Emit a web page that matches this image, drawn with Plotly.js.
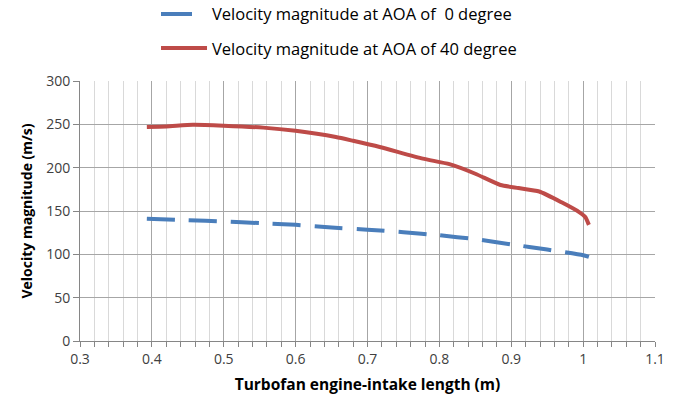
<!DOCTYPE html>
<html>
<head>
<meta charset="utf-8">
<script src="https://cdn.plot.ly/plotly-3.0.1.min.js"></script>
<style>html,body{margin:0;padding:0;background:#fff;}#chart{width:680px;height:406px;}</style>
</head>
<body>
<div id="chart"></div>
<script>
// Data
const lengthAoa0 = [0.393, 0.45, 0.5, 0.55, 0.6, 0.65, 0.7, 0.75, 0.8, 0.85, 0.9, 0.95, 1.0, 1.008];
const velocityAoa0 = [141.2, 139.5, 138, 136, 134, 131, 128.5, 125.5, 122, 117.5, 111.5, 105.5, 99, 97];

const lengthAoa40 = [0.393, 0.42, 0.457, 0.5, 0.555, 0.6, 0.656, 0.68, 0.717, 0.777, 0.814, 0.85, 0.885, 0.91, 0.939, 0.97, 0.994, 1.003, 1.008];
const velocityAoa40 = [247, 247.5, 249.5, 248.5, 246.2, 242.5, 235.4, 231, 223.8, 210.4, 204, 193, 180, 176.5, 172.5, 160, 149, 143, 134];

const seriesNames = ["Velocity magnitude at AOA of \u00a00 degree", "Velocity magnitude at AOA of 40 degree"];
const seriesColors = ["#4a7ebb", "#be4b48"];
const xTitle = "Turbofan engine-intake length (m)";
const yTitle = "Velocity magnitude (m/s)";

const traces = [
  {
    x: lengthAoa0, y: velocityAoa0, name: seriesNames[0], mode: "lines",
    line: {color: seriesColors[0], width: 4, dash: "28px,14px", shape: "spline", smoothing: 0.5},
    hoverinfo: "skip"
  },
  {
    x: lengthAoa40, y: velocityAoa40, name: seriesNames[1], mode: "lines",
    line: {color: seriesColors[1], width: 4, shape: "spline", smoothing: 0.5},
    hoverinfo: "skip"
  }
];

// Legend drawn in paper coordinates above the plot (keeps the plot area fixed)
const legendRowsY = [1.2577, 1.1269];
const legendLineX0 = 0.1409;
const legendLineX1 = [0.1948, 0.2209];
const legendTextX = 0.2261;

const shapes = seriesNames.map((n, i) => ({
  type: "line", xref: "paper", yref: "paper",
  x0: legendLineX0, x1: legendLineX1[i], y0: legendRowsY[i], y1: legendRowsY[i],
  line: {color: seriesColors[i], width: 4}
}));
const annotations = seriesNames.map((n, i) => ({
  xref: "paper", yref: "paper", x: legendTextX, y: legendRowsY[i],
  xanchor: "left", yanchor: "middle", showarrow: false, text: n,
  font: {family: "Open Sans, sans-serif", size: 16.5, color: "#000000"}
}));

const tickFont = {family: "Open Sans, sans-serif", size: 14, color: "#404040"};
const layout = {
  width: 680, height: 406,
  margin: {l: 80, r: 25, t: 81, b: 65},
  paper_bgcolor: "#ffffff", plot_bgcolor: "#ffffff",
  showlegend: false,
  shapes: shapes,
  annotations: annotations,
  xaxis: {
    range: [0.3, 1.1], dtick: 0.1, tick0: 0.3,
    showgrid: true, gridcolor: "#a6a6a6", gridwidth: 1,
    showline: true, linecolor: "#868686", linewidth: 1,
    ticks: "outside", ticklen: 5, tickcolor: "#868686",
    tickfont: tickFont, zeroline: false,
    minor: {dtick: 0.02, tick0: 0.3, showgrid: true, gridcolor: "#d9d9d9", gridwidth: 1, ticks: "outside", ticklen: 5, tickcolor: "#868686"},
    title: {text: xTitle, font: {family: "Open Sans, sans-serif", size: 15.5, color: "#000000", weight: "bold"}, standoff: 12}
  },
  yaxis: {
    range: [0, 300], dtick: 50,
    showgrid: true, gridcolor: "#a6a6a6", gridwidth: 1,
    showline: true, linecolor: "#868686", linewidth: 1,
    ticks: "outside", ticklen: 6, tickcolor: "#868686",
    tickfont: tickFont, zeroline: false,
    title: {text: yTitle, font: {family: "Open Sans, sans-serif", size: 14, color: "#000000", weight: "bold"}, standoff: 10}
  }
};

Plotly.newPlot("chart", traces, layout, {staticPlot: true, displayModeBar: false});
</script>
</body>
</html>
